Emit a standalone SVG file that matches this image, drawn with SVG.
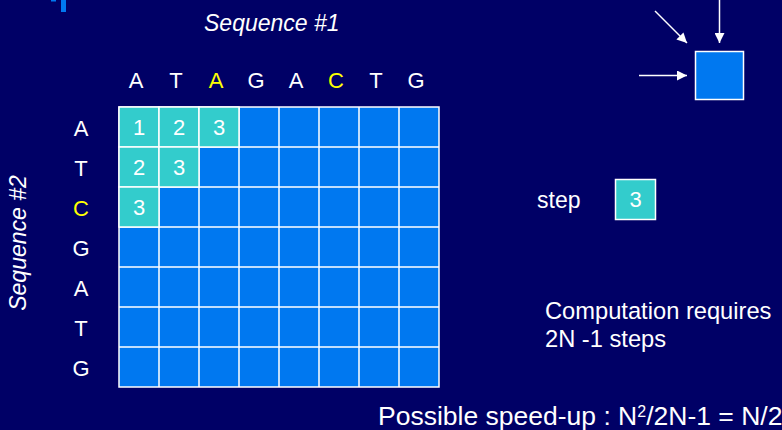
<svg xmlns="http://www.w3.org/2000/svg" width="782" height="430" viewBox="0 0 782 430">
<defs>
<style>
.t{font-family:"Liberation Sans",Arial,sans-serif;fill:#ffffff}
.y{fill:#ffff00}
.blue{fill:#0078f0;stroke:#ffffff;stroke-width:1.5}
.teal{fill:#33cccc;stroke:#ffffff;stroke-width:1.5}
.conn{stroke:#ffffff;stroke-width:1.5;fill:none}
</style>
<marker id="ah" viewBox="0 0 10 10" refX="10" refY="5" markerWidth="10" markerHeight="10" markerUnits="userSpaceOnUse" orient="auto">
<path d="M0,0 L10,5 L0,10 z" fill="#ffffff"/>
</marker>
</defs>
<rect x="0" y="0" width="782" height="430" fill="#000066"/>
<rect x="51" y="0" width="5" height="1.5" fill="#0078f0"/>
<rect x="61" y="0" width="5" height="12" fill="#0078f0"/>

<text class="t" x="204" y="31" font-size="23" font-style="italic">Sequence #1</text>
<text class="t" transform="translate(26,243) rotate(-90)" text-anchor="middle" font-size="23" font-style="italic">Sequence #2</text>

<g id="seq1" class="t" font-size="22" text-anchor="middle">
<text x="136" y="88">A</text>
<text x="176" y="88">T</text>
<text x="216" y="88" class="y">A</text>
<text x="256" y="88">G</text>
<text x="296" y="88">A</text>
<text x="336" y="88" class="y">C</text>
<text x="376" y="88">T</text>
<text x="416" y="88">G</text>
</g>
<g id="seq2" class="t" font-size="22" text-anchor="middle">
<text x="81" y="136">A</text>
<text x="81" y="176">T</text>
<text x="81" y="216" class="y">C</text>
<text x="81" y="256">G</text>
<text x="81" y="296">A</text>
<text x="81" y="336">T</text>
<text x="81" y="376">G</text>
</g>

<g id="grid">
<rect class="blue" x="119" y="107" width="320" height="280"/>
<path class="conn" d="M159,107V387M199,107V387M239,107V387M279,107V387M319,107V387M359,107V387M399,107V387M119,147H439M119,187H439M119,227H439M119,267H439M119,307H439M119,347H439"/>
<rect class="teal" x="119" y="107" width="40" height="40"/>
<rect class="teal" x="159" y="107" width="40" height="40"/>
<rect class="teal" x="199" y="107" width="40" height="40"/>
<rect class="teal" x="119" y="147" width="40" height="40"/>
<rect class="teal" x="159" y="147" width="40" height="40"/>
<rect class="teal" x="119" y="187" width="40" height="40"/>
<g class="t" font-size="22" text-anchor="middle">
<text x="139" y="135">1</text>
<text x="179" y="135">2</text>
<text x="219" y="135">3</text>
<text x="139" y="175">2</text>
<text x="179" y="175">3</text>
<text x="139" y="215">3</text>
</g>
</g>

<g id="cell">
<rect class="blue" x="695.5" y="51.5" width="48" height="48"/>
</g>
<g id="connectors">
<line class="conn" x1="719.5" y1="0" x2="719.5" y2="43" marker-end="url(#ah)"/>
<line class="conn" x1="655" y1="11" x2="687" y2="43" marker-end="url(#ah)"/>
<line class="conn" x1="639" y1="75.5" x2="687" y2="75.5" marker-end="url(#ah)"/>
</g>

<g id="step">
<text class="t" x="537" y="208" font-size="23">step</text>
<rect class="teal" x="615.5" y="179.5" width="40" height="40"/>
<text class="t" x="635.5" y="207" font-size="22" text-anchor="middle">3</text>
</g>

<text class="t" x="545" y="319" font-size="23.7">Computation requires</text>
<text class="t" x="545" y="347" font-size="23.7">2N -1 steps</text>

<text class="t" x="378" y="425" font-size="26.5">Possible speed-up : N<tspan font-size="16" dy="-8">2</tspan><tspan dy="8">/2N-1 = N/2</tspan></text>
</svg>
